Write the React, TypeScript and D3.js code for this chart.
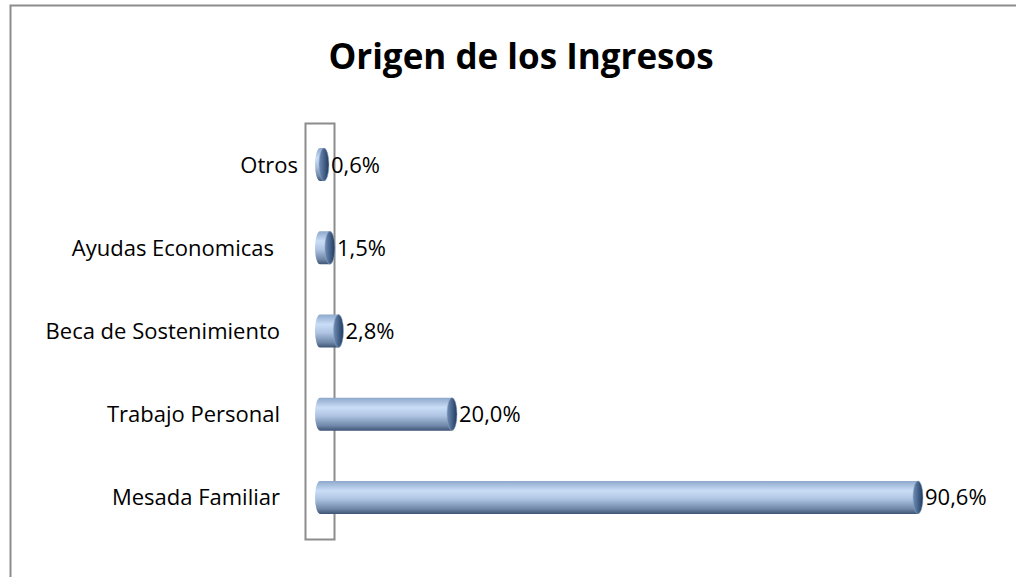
import React from 'react';
import * as d3 from 'd3';

const categories = ['Otros', 'Ayudas Economicas', 'Beca de Sostenimiento', 'Trabajo Personal', 'Mesada Familiar'];
const values = [0.6, 1.5, 2.8, 20.0, 90.6];
const valueLabels = ['0,6%', '1,5%', '2,8%', '20,0%', '90,6%'];

const W = 1016;
const H = 577;
const FONT = '"Open Sans", sans-serif';

// right edge of each category label (the original layout is not perfectly aligned)
const labelRight = (c: string) => (c === 'Otros' ? 298 : c === 'Ayudas Economicas' ? 274 : 280);

const App = () => {
  const x = d3.scaleLinear().domain([0, 90.6]).range([320, 918]);
  const y = d3.scaleBand().domain(categories).range([123, 539]).padding(0);
  const barH = 33;
  const rx = 5;

  return (
    <svg width={W} height={H} style={{ position: 'absolute', left: 0, top: 0 }}>
      <defs>
        <linearGradient id="cyl" x1="0" y1="0" x2="0" y2="1">
          <stop offset="0" stopColor="#8ea8cc" />
          <stop offset="0.3" stopColor="#c9ddf6" />
          <stop offset="0.55" stopColor="#aec4e2" />
          <stop offset="0.85" stopColor="#6f87a8" />
          <stop offset="1" stopColor="#3e5474" />
        </linearGradient>
        <linearGradient id="cap" x1="0" y1="0" x2="1" y2="0">
          <stop offset="0" stopColor="#6f8db6" />
          <stop offset="1" stopColor="#203a5e" />
        </linearGradient>
      </defs>

      {/* outer frame */}
      <rect x={10.5} y={5.5} width={W + 20} height={H + 20} fill="#fff" stroke="#8c8c8c" strokeWidth={2} />

      <text x={521} y={69} textAnchor="middle" fontFamily={FONT} fontWeight="bold" fontSize={35} fill="#000">
        Origen de los Ingresos
      </text>

      {/* plot wall */}
      <rect x={305.5} y={123.5} width={29} height={416} fill="none" stroke="#8c8c8c" strokeWidth={2} />

      {categories.map((c, i) => {
        const cy = (y(c) as number) + y.bandwidth() / 2;
        const x0 = x(0);
        const x1 = x(values[i]);
        const top = cy - barH / 2;
        const body = `M${x0},${top} L${x1},${top} L${x1},${top + barH} L${x0},${top + barH}
          A${rx},${barH / 2} 0 0 1 ${x0},${top} Z`;
        return (
          <g key={c}>
            <path d={body} fill="url(#cyl)" />
            <ellipse cx={x1} cy={cy} rx={rx} ry={barH / 2} fill="url(#cap)" stroke="#8fa6c4" strokeWidth={0.5} />
            <text x={x1 + rx + 2} y={cy} dy="0.36em" fontFamily={FONT} fontSize={22} fill="#000">
              {valueLabels[i]}
            </text>
            <text x={labelRight(c)} y={cy} dy="0.36em" textAnchor="end" fontFamily={FONT} fontSize={22} fill="#000">
              {c}
            </text>
          </g>
        );
      })}
    </svg>
  );
};

export default App;
